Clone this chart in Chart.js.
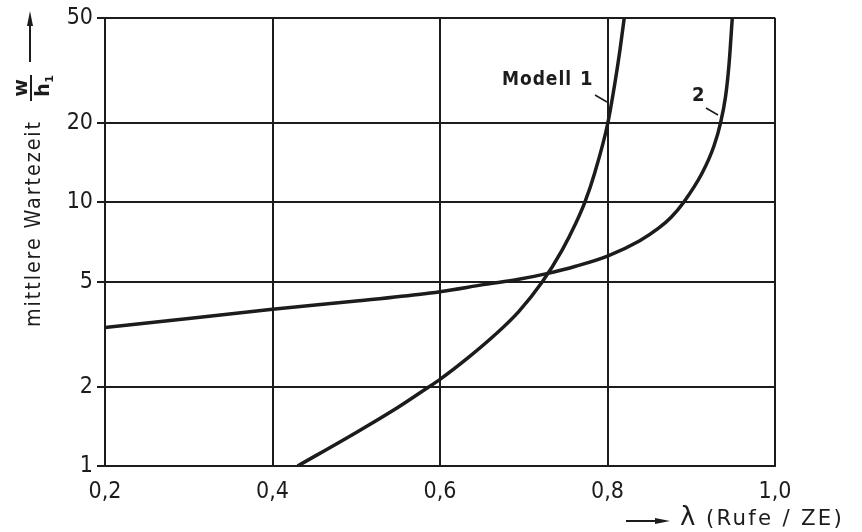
<!DOCTYPE html>
<html>
<head>
<meta charset="utf-8">
<script src="https://cdn.jsdelivr.net/npm/chart.js@4/dist/chart.umd.min.js"></script>
<style>
  html, body { margin: 0; padding: 0; background: #fff; }
  #wrap { width: 862px; height: 532px; position: relative; }
</style>
</head>
<body>
<div id="wrap"><canvas id="c" width="862" height="532"></canvas></div>
<script>
// Arrival rate λ (calls per time unit) and mean waiting time w/h1
const model1Lambda = [0.43, 0.50, 0.55, 0.582, 0.60, 0.634, 0.666, 0.694, 0.722, 0.746, 0.762, 0.773, 0.785, 0.80, 0.809, 0.815, 0.82, 0.822];
const model1Wait   = [1.0, 1.34, 1.67, 1.95, 2.13, 2.58, 3.15, 3.85, 4.98, 6.6, 8.3, 10, 13.0, 19.7, 28.5, 38, 50, 56];

const model2Lambda = [0.2, 0.3, 0.4, 0.5, 0.574, 0.60, 0.654, 0.694, 0.726, 0.762, 0.80, 0.838, 0.861, 0.876, 0.891, 0.913, 0.927, 0.935, 0.941, 0.945, 0.949, 0.951];
const model2Wait   = [3.35, 3.62, 3.93, 4.22, 4.47, 4.58, 4.88, 5.1, 5.35, 5.72, 6.25, 7.13, 7.97, 8.77, 10, 12.9, 16.3, 20, 25.2, 33, 50, 62];

const xTicks = [0.2, 0.4, 0.6, 0.8, 1.0];
const yTicks = [1, 2, 5, 10, 20, 50];

const INK = '#1c1c1c';
const FONT = '"DejaVu Sans", "Liberation Sans", sans-serif';
const NARROW = '"DejaVu Sans Condensed", "DejaVu Sans", sans-serif';

function pts(xs, ys) { return xs.map((x, i) => ({ x: x, y: ys[i] })); }

function spacing(ctx, px) { if ('letterSpacing' in ctx) ctx.letterSpacing = px + 'px'; }

// Draw text stretched or squeezed along its baseline to a given length
function fitText(ctx, text, x, y, length) {
  const w = ctx.measureText(text).width;
  ctx.save();
  ctx.translate(x, y);
  ctx.scale(length / w, 1);
  ctx.fillText(text, 0, 0);
  ctx.restore();
}

// Text and arrows around the plot: axis titles and curve labels
const annotations = {
  id: 'annotations',
  afterDraw(chart) {
    const ctx = chart.ctx;
    ctx.save();
    ctx.fillStyle = INK;
    ctx.strokeStyle = INK;

    // y-axis title, rotated
    ctx.save();
    ctx.translate(34, 327);
    ctx.rotate(-Math.PI / 2);
    ctx.font = '500 22px ' + NARROW;
    ctx.textAlign = 'left';
    ctx.textBaseline = 'middle';
    spacing(ctx, 2);
    fitText(ctx, 'mittlere Wartezeit', 0, 0, 207);
    ctx.restore();

    // fraction w / h1, rotated
    ctx.save();
    ctx.translate(31, 88);
    ctx.rotate(-Math.PI / 2);
    ctx.font = 'bold 19px ' + FONT;
    ctx.textAlign = 'center';
    ctx.textBaseline = 'alphabetic';
    ctx.fillText('w', 0, -4);
    ctx.lineWidth = 2;
    ctx.beginPath(); ctx.moveTo(-13, 0); ctx.lineTo(13, 0); ctx.stroke();
    ctx.textBaseline = 'top';
    ctx.fillText('h', -2, 4);
    ctx.font = 'bold 11px ' + FONT;
    ctx.fillText('1', 9, 14);
    ctx.restore();

    // upward arrow next to the y-axis title
    ctx.lineWidth = 2;
    ctx.beginPath(); ctx.moveTo(30, 62); ctx.lineTo(30, 18); ctx.stroke();
    ctx.beginPath(); ctx.moveTo(30, 11); ctx.lineTo(27, 26); ctx.lineTo(33, 26); ctx.closePath(); ctx.fill();

    // x-axis title with arrow
    ctx.lineWidth = 2;
    ctx.beginPath(); ctx.moveTo(626, 521); ctx.lineTo(660, 521); ctx.stroke();
    ctx.beginPath(); ctx.moveTo(670, 521); ctx.lineTo(655, 518); ctx.lineTo(655, 524); ctx.closePath(); ctx.fill();
    ctx.font = '26px ' + FONT;
    ctx.textAlign = 'left';
    ctx.textBaseline = 'middle';
    ctx.fillText('λ', 680, 518);
    ctx.font = '21px ' + NARROW;
    spacing(ctx, 2);
    fitText(ctx, '(Rufe / ZE)', 706, 520, 138);
    spacing(ctx, 0);

    // curve labels with leader lines
    ctx.font = 'bold 20px ' + NARROW;
    ctx.textAlign = 'left';
    ctx.textBaseline = 'middle';
    spacing(ctx, 1);
    fitText(ctx, 'Modell', 502, 80, 70);
    spacing(ctx, 0);
    ctx.fillText('1', 580, 80);
    ctx.lineWidth = 1.5;
    ctx.beginPath(); ctx.moveTo(595, 95); ctx.lineTo(607, 102); ctx.stroke();

    ctx.fillText('2', 692, 96);
    ctx.beginPath(); ctx.moveTo(706, 108); ctx.lineTo(718, 115); ctx.stroke();

    ctx.restore();
  }
};

new Chart(document.getElementById('c'), {
  type: 'line',
  data: {
    datasets: [
      {
        label: 'Modell 1',
        data: pts(model1Lambda, model1Wait),
        borderColor: INK,
        borderWidth: 3.5,
        pointRadius: 0,
        cubicInterpolationMode: 'monotone',
        fill: false
      },
      {
        label: '2',
        data: pts(model2Lambda, model2Wait),
        borderColor: INK,
        borderWidth: 3.5,
        pointRadius: 0,
        cubicInterpolationMode: 'monotone',
        fill: false
      }
    ]
  },
  options: {
    responsive: false,
    animation: false,
    devicePixelRatio: 1,
    layout: { padding: { top: 15, right: 87, left: 0, bottom: 0 } },
    plugins: {
      legend: { display: false },
      tooltip: { enabled: false }
    },
    scales: {
      x: {
        type: 'linear',
        min: 0.2,
        max: 1.0,
        afterBuildTicks(scale) { scale.ticks = xTicks.map(v => ({ value: v })); },
        afterFit(scale) { scale.height = 66; },
        ticks: {
          color: INK,
          font: { family: NARROW, size: 23 },
          padding: 12,
          maxRotation: 0,
          callback: v => v.toFixed(1).replace('.', ',')
        },
        grid: { color: INK, lineWidth: 2, drawTicks: false },
        border: { color: INK, width: 2 }
      },
      y: {
        type: 'logarithmic',
        min: 1,
        max: 50,
        afterBuildTicks(scale) { scale.ticks = yTicks.map(v => ({ value: v })); },
        afterFit(scale) { scale.width = 105; },
        ticks: {
          color: INK,
          font: { family: NARROW, size: 23 },
          padding: 4,
          autoSkip: false,
          callback: v => String(v)
        },
        grid: { color: INK, lineWidth: 2, tickLength: 8 },
        border: { color: INK, width: 2 }
      }
    }
  },
  plugins: [annotations]
});
</script>
</body>
</html>
